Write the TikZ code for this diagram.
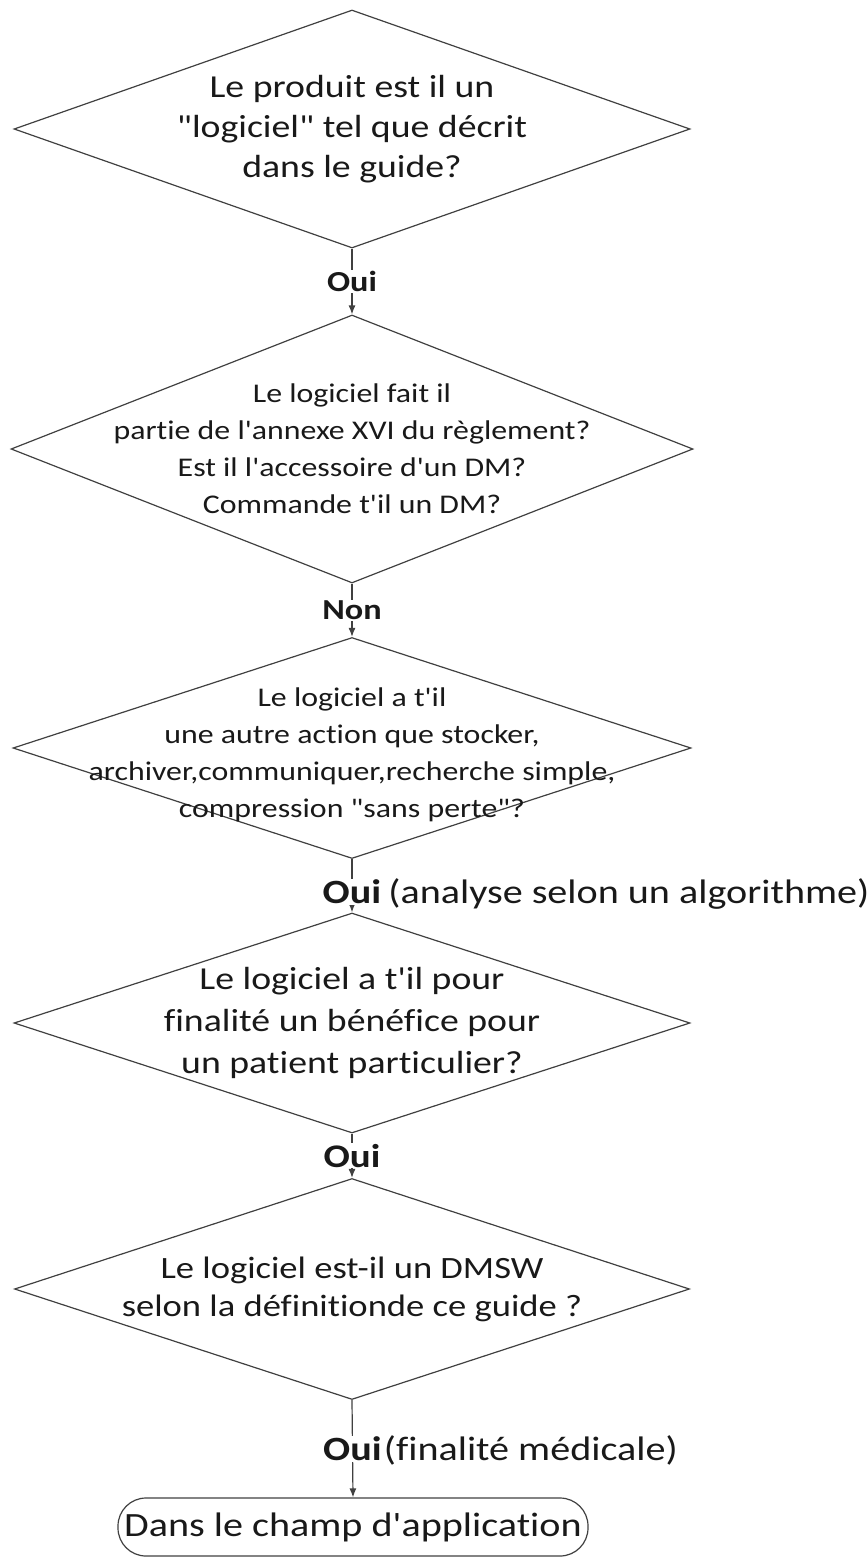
\documentclass[tikz,border=0pt]{standalone}
\usepackage{fontspec}
\setmainfont{Carlito}[FakeStretch=1.18,Ligatures={TeXOff,NoCommon}]
\usetikzlibrary{shapes.geometric,arrows.meta}
\begin{document}
\begin{tikzpicture}[x=1pt,y=-1pt,
  line width=1.2pt,
  question/.style={diamond,draw=black!75,inner sep=0pt},
  qtext/.style={align=center,inner sep=0pt,text=black!90},
  terminal/.style={rectangle,rounded corners=28pt,draw=black!75,align=center,
    minimum width=470pt,minimum height=58pt,inner sep=0pt,text=black!90,
    font=\fontsize{34}{40}\selectfont},
  flow/.style={draw=black!75,-{Latex[length=9pt,width=7pt]}},
  answer/.style={fill=white,inner sep=1pt,text=black!90},
  remark/.style={anchor=base west,inner sep=0pt,text=black!90}]
\useasboundingbox (0,0) rectangle (867,1558);

% decision diamonds (outline) and their questions
\node[question,minimum width=676pt,minimum height=238pt] (d1) at (352,129) {};
\node[qtext,font=\fontsize{32}{40}\selectfont] (q1) at (d1.center)
  {Le produit est il un\\"logiciel" tel que décrit\\dans le guide?};

\node[question,minimum width=682pt,minimum height=268pt] (d2) at (352,449) {};
\node[qtext,font=\fontsize{27}{37}\selectfont] (q2) at (d2.center)
  {Le logiciel fait il\\partie de l'annexe XVI du règlement?\\Est il l'accessoire d'un DM?\\Commande t'il un DM?};

\node[question,minimum width=678pt,minimum height=221pt] (d3) at (352,748) {};
\node[qtext,font=\fontsize{27}{37}\selectfont] (q3) at ([yshift=-7pt]d3.center)
  {Le logiciel a t'il\\une autre action que stocker,\\archiver,communiquer,recherche simple,\\compression "sans perte"?};

\node[question,minimum width=676pt,minimum height=220pt] (d4) at (352,1023) {};
\node[qtext,font=\fontsize{32}{42}\selectfont] (q4) at (d4.center)
  {Le logiciel a t'il pour\\finalité un bénéfice pour\\un patient particulier?};

\node[question,minimum width=675pt,minimum height=221pt] (d5) at (352,1289) {};
\node[qtext,font=\fontsize{31}{38}\selectfont] (q5) at (d5.center)
  {Le logiciel est-il un DMSW\\selon la définitionde ce guide ?};

% outcome
\node[terminal] (t) at (353,1527) {Dans le champ d'application};

% connectors with answers
\draw[flow] (d1.south) -- node[answer,font=\bfseries\fontsize{29}{34}\selectfont] (a1) {Oui} (d2.north);
\draw[flow] (d2.south) -- node[answer,font=\bfseries\fontsize{29}{34}\selectfont] (a2) {Non} (d3.north);
\draw[flow] (d3.south) -- node[answer,pos=0.62,font=\bfseries\fontsize{34}{40}\selectfont] (a3) {Oui} (d4.north);
\node[remark,font=\fontsize{34}{40}\selectfont] (r3) at ([xshift=5pt]a3.base east) {(analyse selon un algorithme)};
\draw[flow] (d4.south) -- node[answer,font=\bfseries\fontsize{33}{38}\selectfont] (a4) {Oui} (d5.north);
\draw[flow] (d5.south) -- node[answer,font=\bfseries\fontsize{34}{40}\selectfont] (a5) {Oui} (t.north);
\node[remark,font=\fontsize{34}{40}\selectfont] (r5) at (a5.base east) {(finalité médicale)};
\end{tikzpicture}
\end{document}
